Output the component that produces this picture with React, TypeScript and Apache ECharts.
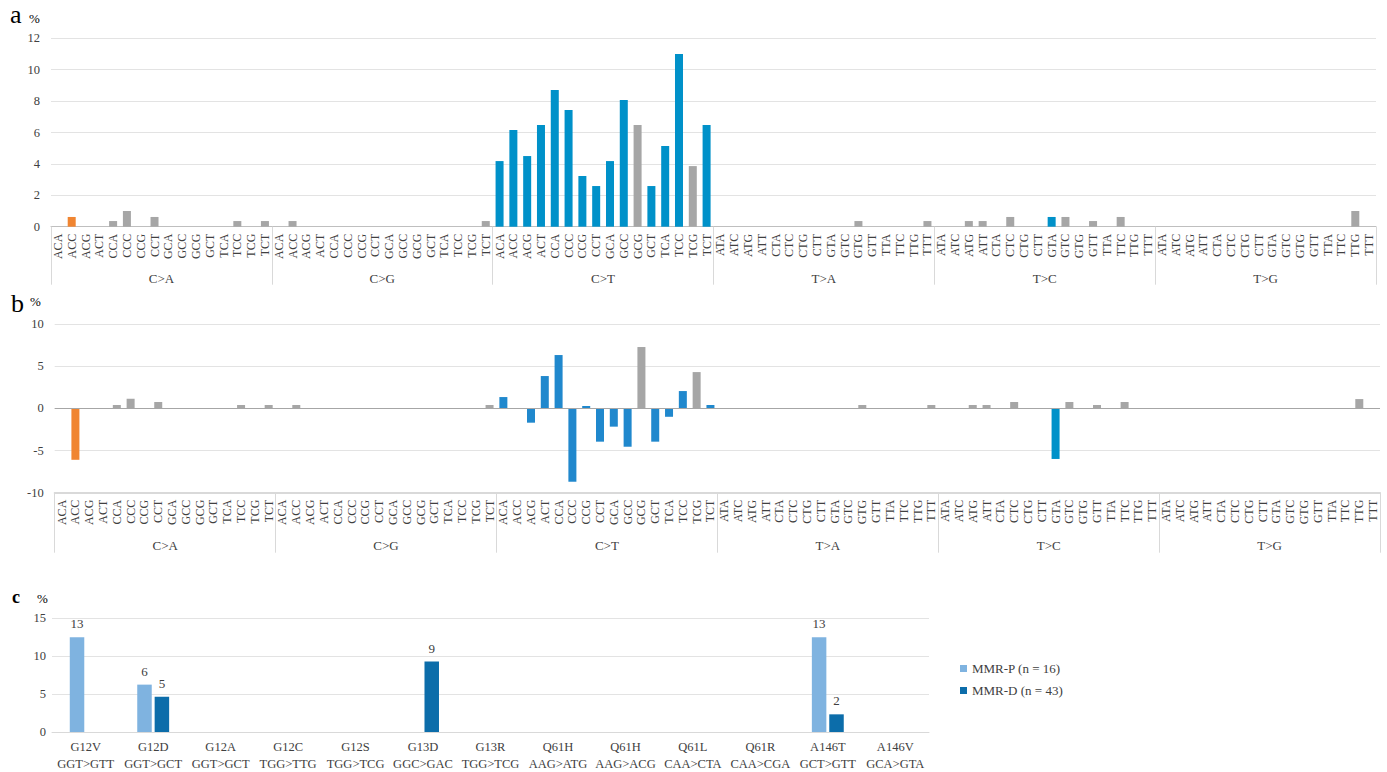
import React, { useEffect, useRef } from 'react';
import * as echarts from 'echarts';

// ---------- categories ----------
const mutationTypes = ['C>A', 'C>G', 'C>T', 'T>A', 'T>C', 'T>G'];
const contextsC = ['ACA','ACC','ACG','ACT','CCA','CCC','CCG','CCT','GCA','GCC','GCG','GCT','TCA','TCC','TCG','TCT'];
const contextsT = ['ATA','ATC','ATG','ATT','CTA','CTC','CTG','CTT','GTA','GTC','GTG','GTT','TTA','TTC','TTG','TTT'];

// ---------- panel a (%) ----------
const aCtoA = [0, 0.62, 0, 0, 0.36, 1.0, 0, 0.62, 0, 0, 0, 0, 0, 0.36, 0, 0.36];
const aCtoG = [0, 0.36, 0, 0, 0, 0, 0, 0, 0, 0, 0, 0, 0, 0, 0, 0.36];
const aCtoT = [4.18, 6.16, 4.5, 6.48, 8.7, 7.43, 3.23, 2.59, 4.18, 8.07, 6.48, 2.59, 5.14, 11.0, 3.86, 6.48];
const aTtoA = [0, 0, 0, 0, 0, 0, 0, 0, 0, 0, 0.36, 0, 0, 0, 0, 0.36];
const aTtoC = [0, 0, 0.36, 0.36, 0, 0.62, 0, 0, 0.62, 0.62, 0, 0.36, 0, 0.62, 0, 0];
const aTtoG = [0, 0, 0, 0, 0, 0, 0, 0, 0, 0, 0, 0, 0, 0, 1.0, 0];

// ---------- panel b (difference, %) ----------
const bCtoA = [0, -6.1, 0, 0, 0.4, 1.15, 0, 0.75, 0, 0, 0, 0, 0, 0.4, 0, 0.4];
const bCtoG = [0, 0.4, 0, 0, 0, 0, 0, 0, 0, 0, 0, 0, 0, 0, 0, 0.4];
const bCtoT = [1.34, 0, -1.7, 3.83, 6.32, -8.7, 0.28, -3.95, -2.17, -4.55, 7.27, -3.95, -1.0, 2.05, 4.3, 0.4];
const bTtoA = [0, 0, 0, 0, 0, 0, 0, 0, 0, 0, 0.4, 0, 0, 0, 0, 0.4];
const bTtoC = [0, 0, 0.4, 0.4, 0, 0.75, 0, 0, -6.0, 0.75, 0, 0.4, 0, 0.75, 0, 0];
const bTtoG = [0, 0, 0, 0, 0, 0, 0, 0, 0, 0, 0, 0, 0, 0, 1.1, 0];

// highlighted contexts
const orangeKeys = ['C>A|ACC'];
const blueKeys = ['C>T|ACA','C>T|ACC','C>T|ACG','C>T|ACT','C>T|CCA','C>T|CCC','C>T|CCG','C>T|CCT','C>T|GCA','C>T|GCC','C>T|GCT','C>T|TCA','C>T|TCC','C>T|TCT','T>C|GTA'];

// ---------- panel c (%) ----------
const krasVariants = ['G12V','G12D','G12A','G12C','G12S','G13D','G13R','Q61H','Q61H','Q61L','Q61R','A146T','A146V'];
const krasChanges = ['GGT>GTT','GGT>GCT','GGT>GCT','TGG>TTG','TGG>TCG','GGC>GAC','TGG>TCG','AAG>ATG','AAG>ACG','CAA>CTA','CAA>CGA','GCT>GTT','GCA>GTA'];
const seriesNames = ['MMR-P (n = 16)', 'MMR-D (n = 43)'];
const mmrP = [12.5, 6.25, 0, 0, 0, 0, 0, 0, 0, 0, 0, 12.5, 0];
const mmrD = [0, 4.65, 0, 0, 0, 9.3, 0, 0, 0, 0, 0, 2.33, 0];

const FONT = 'Liberation Serif';
const TXT = '#404040';

export default function App() {
  const ref = useRef<HTMLDivElement>(null);

  useEffect(() => {
    if (!ref.current) return;
    const chart = echarts.init(ref.current, null, { renderer: 'svg' });

    const keys: string[] = [];
    mutationTypes.forEach((t) => {
      const ctx = t[0] === 'C' ? contextsC : contextsT;
      ctx.forEach((c) => keys.push(t + '|' + c));
    });
    const aValues = [...aCtoA, ...aCtoG, ...aCtoT, ...aTtoA, ...aTtoC, ...aTtoG];
    const bValues = [...bCtoA, ...bCtoG, ...bCtoT, ...bTtoA, ...bTtoC, ...bTtoG];

    const colorA = (p: any) => {
      const k = keys[p.dataIndex];
      if (orangeKeys.includes(k)) return '#F08531';
      if (blueKeys.includes(k)) return '#0091C9';
      return '#A6A6A6';
    };
    const colorB = (p: any) => {
      const k = keys[p.dataIndex];
      if (orangeKeys.includes(k)) return '#F08531';
      if (k === 'T>C|GTA') return '#0091C9';
      if (blueKeys.includes(k)) return '#2088CD';
      return '#A6A6A6';
    };

    const ctxAxis = (grid: number, lineColor: string, lineWidth: number, onZero: boolean) => ({
      type: 'category',
      gridIndex: grid,
      data: keys,
      position: 'bottom',
      boundaryGap: true,
      axisLine: { show: true, onZero, lineStyle: { color: lineColor, width: lineWidth } },
      axisTick: { show: false },
      axisLabel: {
        interval: 0,
        rotate: 90,
        margin: 7,
        hideOverlap: false,
        fontFamily: FONT,
        fontSize: 12,
        color: TXT,
        formatter: (v: string) => v.split('|')[1],
      },
      splitLine: { show: false },
    });
    const groupAxis = (grid: number, tickLen: number, margin: number) => ({
      type: 'category',
      gridIndex: grid,
      data: mutationTypes,
      position: 'bottom',
      boundaryGap: true,
      axisLine: { show: false, onZero: false },
      axisTick: { show: true, interval: 0, length: tickLen, lineStyle: { color: '#D9D9D9', width: 1 } },
      axisLabel: { interval: 0, margin, fontFamily: FONT, fontSize: 13, color: TXT, hideOverlap: false },
      splitLine: { show: false },
    });
    const valAxis = (grid: number, min: number, max: number, interval: number, margin: number) => ({
      type: 'value',
      gridIndex: grid,
      min,
      max,
      interval,
      axisLine: { show: false },
      axisTick: { show: false },
      axisLabel: { margin, fontFamily: FONT, fontSize: 12.5, color: TXT },
      splitLine: { show: true, lineStyle: { color: '#E3E3E3', width: 1 } },
    });

    const barLabel = {
      show: true,
      position: 'top',
      distance: 7,
      fontFamily: FONT,
      fontSize: 13,
      color: TXT,
      formatter: (p: any) => (p.value ? String(Math.round(p.value)) : ''),
    };

    const option: any = {
      animation: false,
      backgroundColor: '#ffffff',
      textStyle: { fontFamily: FONT },
      grid: [
        { left: 51, right: 11, top: 38.3, bottom: 772 - 226.7, containLabel: false },
        { left: 54.7, right: 7, top: 324, bottom: 772 - 492.7, containLabel: false },
        { left: 52, right: 458, top: 618.3, bottom: 772 - 732.3, containLabel: false },
      ],
      xAxis: [
        ctxAxis(0, '#BFBFBF', 1, true),
        groupAxis(0, 58, 45),
        ctxAxis(1, '#D9D9D9', 2, false),
        groupAxis(1, 60, 46),
        {
          type: 'category',
          gridIndex: 2,
          data: krasVariants.map((v, i) => v + '\n' + krasChanges[i]),
          boundaryGap: true,
          axisLine: { show: true, lineStyle: { color: '#D9D9D9', width: 1 } },
          axisTick: { show: false },
          axisLabel: { interval: 0, margin: 6, fontFamily: FONT, fontSize: 12.5, lineHeight: 17, color: TXT, hideOverlap: false },
          splitLine: { show: false },
        },
      ],
      yAxis: [
        valAxis(0, 0, 12, 2, 11),
        valAxis(1, -10, 10, 5, 11),
        valAxis(2, 0, 15, 5, 6),
      ],
      legend: {
        data: seriesNames,
        orient: 'vertical',
        left: 955,
        top: 657,
        itemWidth: 7,
        itemHeight: 7,
        itemGap: 9,
        icon: 'rect',
        textStyle: { fontFamily: FONT, fontSize: 13, color: TXT },
        selectedMode: false,
      },
      series: [
        {
          type: 'bar',
          name: 'a',
          xAxisIndex: 0,
          yAxisIndex: 0,
          data: aValues,
          barCategoryGap: '42%',
          itemStyle: { color: colorA },
        },
        {
          type: 'bar',
          name: 'b',
          xAxisIndex: 2,
          yAxisIndex: 1,
          data: bValues,
          barCategoryGap: '42%',
          itemStyle: { color: colorB },
          markLine: {
            silent: true,
            symbol: 'none',
            label: { show: false },
            lineStyle: { color: '#A6A6A6', type: 'solid', width: 1 },
            data: [{ yAxis: 0 }],
          },
        },
        {
          type: 'bar',
          name: seriesNames[0],
          xAxisIndex: 4,
          yAxisIndex: 2,
          data: mmrP,
          barWidth: 14.5,
          barGap: '20%',
          itemStyle: { color: '#7FB3E0' },
          label: barLabel,
        },
        {
          type: 'bar',
          name: seriesNames[1],
          xAxisIndex: 4,
          yAxisIndex: 2,
          data: mmrD,
          barWidth: 14.5,
          barGap: '20%',
          itemStyle: { color: '#0C6DAA' },
          label: barLabel,
        },
      ],
      graphic: [
        { type: 'text', x: 10, y: 14.5, style: { text: 'a', fontFamily: FONT, fontSize: 26, fill: '#000', verticalAlign: 'middle' } },
        { type: 'text', x: 29, y: 18.6, style: { text: '%', fontFamily: FONT, fontSize: 13, fill: '#000', verticalAlign: 'middle' } },
        { type: 'text', x: 11, y: 303, style: { text: 'b', fontFamily: FONT, fontSize: 26, fill: '#000', verticalAlign: 'middle' } },
        { type: 'text', x: 30, y: 301.6, style: { text: '%', fontFamily: FONT, fontSize: 13, fill: '#000', verticalAlign: 'middle' } },
        { type: 'text', x: 12, y: 597, style: { text: 'c', fontFamily: FONT, fontSize: 18, fontWeight: 'bold', fill: '#000', verticalAlign: 'middle' } },
        { type: 'text', x: 37, y: 598.6, style: { text: '%', fontFamily: FONT, fontSize: 13, fill: '#000', verticalAlign: 'middle' } },
      ],
    };

    chart.setOption(option);
    return () => chart.dispose();
  }, []);

  return (
    <div
      ref={ref}
      style={{ position: 'absolute', left: 0, top: 0, width: 1387, height: 772, background: '#fff' }}
    />
  );
}
